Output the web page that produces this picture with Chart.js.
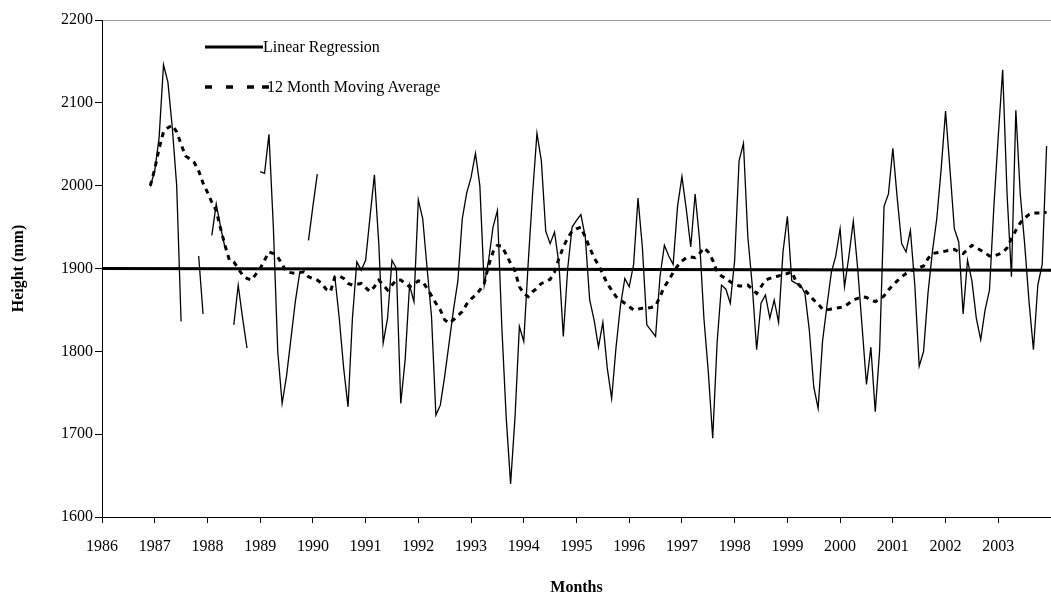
<!DOCTYPE html>
<html><head><meta charset="utf-8">
<script src="https://cdn.jsdelivr.net/npm/chart.js@4.4.1/dist/chart.umd.min.js"></script>
<style>
html,body{margin:0;padding:0;background:#fff;overflow:hidden}
#wrap{position:relative;width:1051px;height:599px}
.lt{position:absolute;font-family:'Liberation Serif','Times New Roman',serif;font-size:16px;color:#000;white-space:nowrap;line-height:18px}
.ls{position:absolute}
</style></head><body>
<div id="wrap"><canvas id="c"></canvas>
<svg class="ls" style="left:205px;top:40px" width="58" height="14"><line x1="0" y1="7" x2="58" y2="7" stroke="#000" stroke-width="3"/></svg>
<div class="lt" style="left:263px;top:38px">Linear Regression</div>
<svg class="ls" style="left:205px;top:80px" width="64" height="14"><line x1="0" y1="7" x2="64" y2="7" stroke="#000" stroke-width="3.5" stroke-dasharray="7,14,7,14,7,8,7,100"/></svg>
<div class="lt" style="left:267px;top:78px">12 Month Moving Average</div>
</div>
<script>
// Monthly series start: December 1986
const startYear = 1986;
const startMonthIndex = 11; // 0 = January
const yearTicks = [1986,1987,1988,1989,1990,1991,1992,1993,1994,1995,1996,1997,1998,1999,2000,2001,2002,2003];
const heightMm = [
1999,2018,2058,2146,2125,2070,2000,1836,null,null,null,1915,1845,null,1940,1978,1950,1925,null,1832,
1880,1840,1804,null,null,2017,2015,2062,1950,1800,1737,1770,1815,1860,1895,null,1934,1975,2014,null,
null,null,1890,1840,1780,1733,1840,1908,1898,1910,1962,2013,1930,1810,1840,1910,1900,1737,1790,1880,
1860,1983,1960,1900,1842,1723,1735,1770,1810,1850,1885,1960,1991,2010,2039,2000,1880,1910,1950,1970,
1830,1720,1640,1720,1830,1812,1906,1990,2063,2030,1945,1930,1944,1906,1818,1900,1950,1958,1965,1938,
1862,1838,1805,1835,1780,1743,1805,1855,1888,1878,1905,1985,1925,1832,1825,1818,1890,1928,1915,1905,
1975,2011,1971,1926,1990,1935,1840,1775,1695,1810,1880,1875,1858,1910,2030,2051,1938,1880,1802,1858,
1868,1840,1862,1835,1920,1963,1885,1882,1880,1870,1825,1757,1731,1812,1855,1895,1915,1948,1878,1915,
1957,1900,1830,1760,1805,1727,1802,1975,1990,2045,1985,1930,1920,1946,1880,1782,1800,1870,1920,1960,
2020,2090,2020,1948,1932,1845,1910,1885,1840,1814,1850,1874,1975,2060,2140,1990,1890,2091,1990,1930,
1860,1802,1880,1905,2048
];
const movingAvg = [
2000,2020,2045,2065,2070,2073,2065,2050,2036,2032,2028,2018,2003,1992,1980,1970,1948,1928,1910,1908,
1900,1892,1888,1886,1893,1900,1910,1920,1918,1914,1905,1896,1895,1894,1895,1896,1890,1888,1886,1882,
1875,1872,1890,1891,1888,1882,1880,1881,1882,1877,1872,1878,1886,1880,1874,1880,1886,1886,1882,1878,
1881,1885,1884,1876,1867,1858,1850,1838,1834,1838,1843,1848,1857,1863,1868,1874,1882,1904,1920,1928,
1927,1917,1906,1897,1878,1870,1866,1872,1876,1882,1884,1887,1896,1912,1926,1937,1945,1948,1950,1938,
1925,1913,1904,1893,1882,1874,1866,1862,1858,1854,1850,1851,1852,1852,1853,1855,1866,1878,1886,1895,
1903,1909,1913,1914,1913,1918,1925,1920,1910,1896,1891,1888,1884,1881,1879,1879,1880,1875,1870,1878,
1886,1888,1890,1891,1893,1894,1896,1884,1878,1874,1868,1862,1857,1851,1850,1851,1852,1853,1854,1858,
1862,1864,1866,1865,1862,1860,1863,1867,1874,1880,1885,1890,1894,1897,1899,1901,1903,1912,1918,1919,
1920,1921,1922,1923,1920,1918,1923,1928,1925,1922,1919,1915,1915,1917,1919,1925,1936,1946,1955,1961,
1965,1967,1967,1967,1968
];
const regressionYears = [1986, 2004];
const regressionValues = [1900, 1898];

const monthX = i => startYear + (startMonthIndex + i) / 12;
const serif = "'Liberation Serif','Times New Roman',serif";
Chart.defaults.font.family = serif;
Chart.defaults.color = '#000';

new Chart(document.getElementById('c'), {
  type: 'line',
  data: {
    datasets: [
      { label: 'Height', data: heightMm.map((v, i) => ({ x: monthX(i), y: v })),
        borderColor: '#000', borderWidth: 1.3, pointRadius: 0, tension: 0, spanGaps: false, fill: false },
      { label: '12 Month Moving Average', data: movingAvg.map((v, i) => ({ x: monthX(i), y: v })),
        borderColor: '#000', borderWidth: 3, borderDash: [5, 5], pointRadius: 0, tension: 0, fill: false },
      { label: 'Linear Regression', data: regressionYears.map((x, i) => ({ x, y: regressionValues[i] })),
        borderColor: '#000', borderWidth: 3, pointRadius: 0, tension: 0, fill: false }
    ]
  },
  options: {
    responsive: true, maintainAspectRatio: false, animation: false,
    layout: { padding: { top: 20, right: 0, left: 0, bottom: 0 } },
    plugins: { legend: { display: false }, tooltip: { enabled: false } },
    scales: {
      x: {
        type: 'linear', min: 1986, max: 2004,
        afterFit(s) { s.height = 82; },
        afterBuildTicks(s) { s.ticks = yearTicks.map(v => ({ value: v })); },
        ticks: { autoSkip: false, maxRotation: 0, padding: 14, color: '#000', font: { family: serif, size: 16 }, callback: v => String(v) },
        grid: { drawOnChartArea: false, drawTicks: true, tickLength: 6, color: '#000' },
        border: { display: true, color: '#000', width: 1 },
        title: { display: true, text: 'Months', color: '#000', font: { family: serif, size: 16, weight: 'bold' }, padding: { top: 0, bottom: 2 } }
      },
      y: {
        min: 1600, max: 2200,
        afterFit(s) { s.width = 102; },
        ticks: { stepSize: 100, padding: 2, color: '#000', font: { family: serif, size: 16 }, callback: v => String(v) },
        grid: { drawOnChartArea: true, drawTicks: true, tickLength: 7,
                color: c => (c.tick && c.tick.value === 2200) ? '#9a9a9a' : 'rgba(0,0,0,0)', tickColor: '#000' },
        border: { display: true, color: '#000', width: 1 },
        title: { display: true, text: 'Height (mm)', color: '#000', font: { family: serif, size: 16, weight: 'bold' }, padding: { top: 9, bottom: 0 } }
      }
    }
  }
});
</script>
</body></html>
